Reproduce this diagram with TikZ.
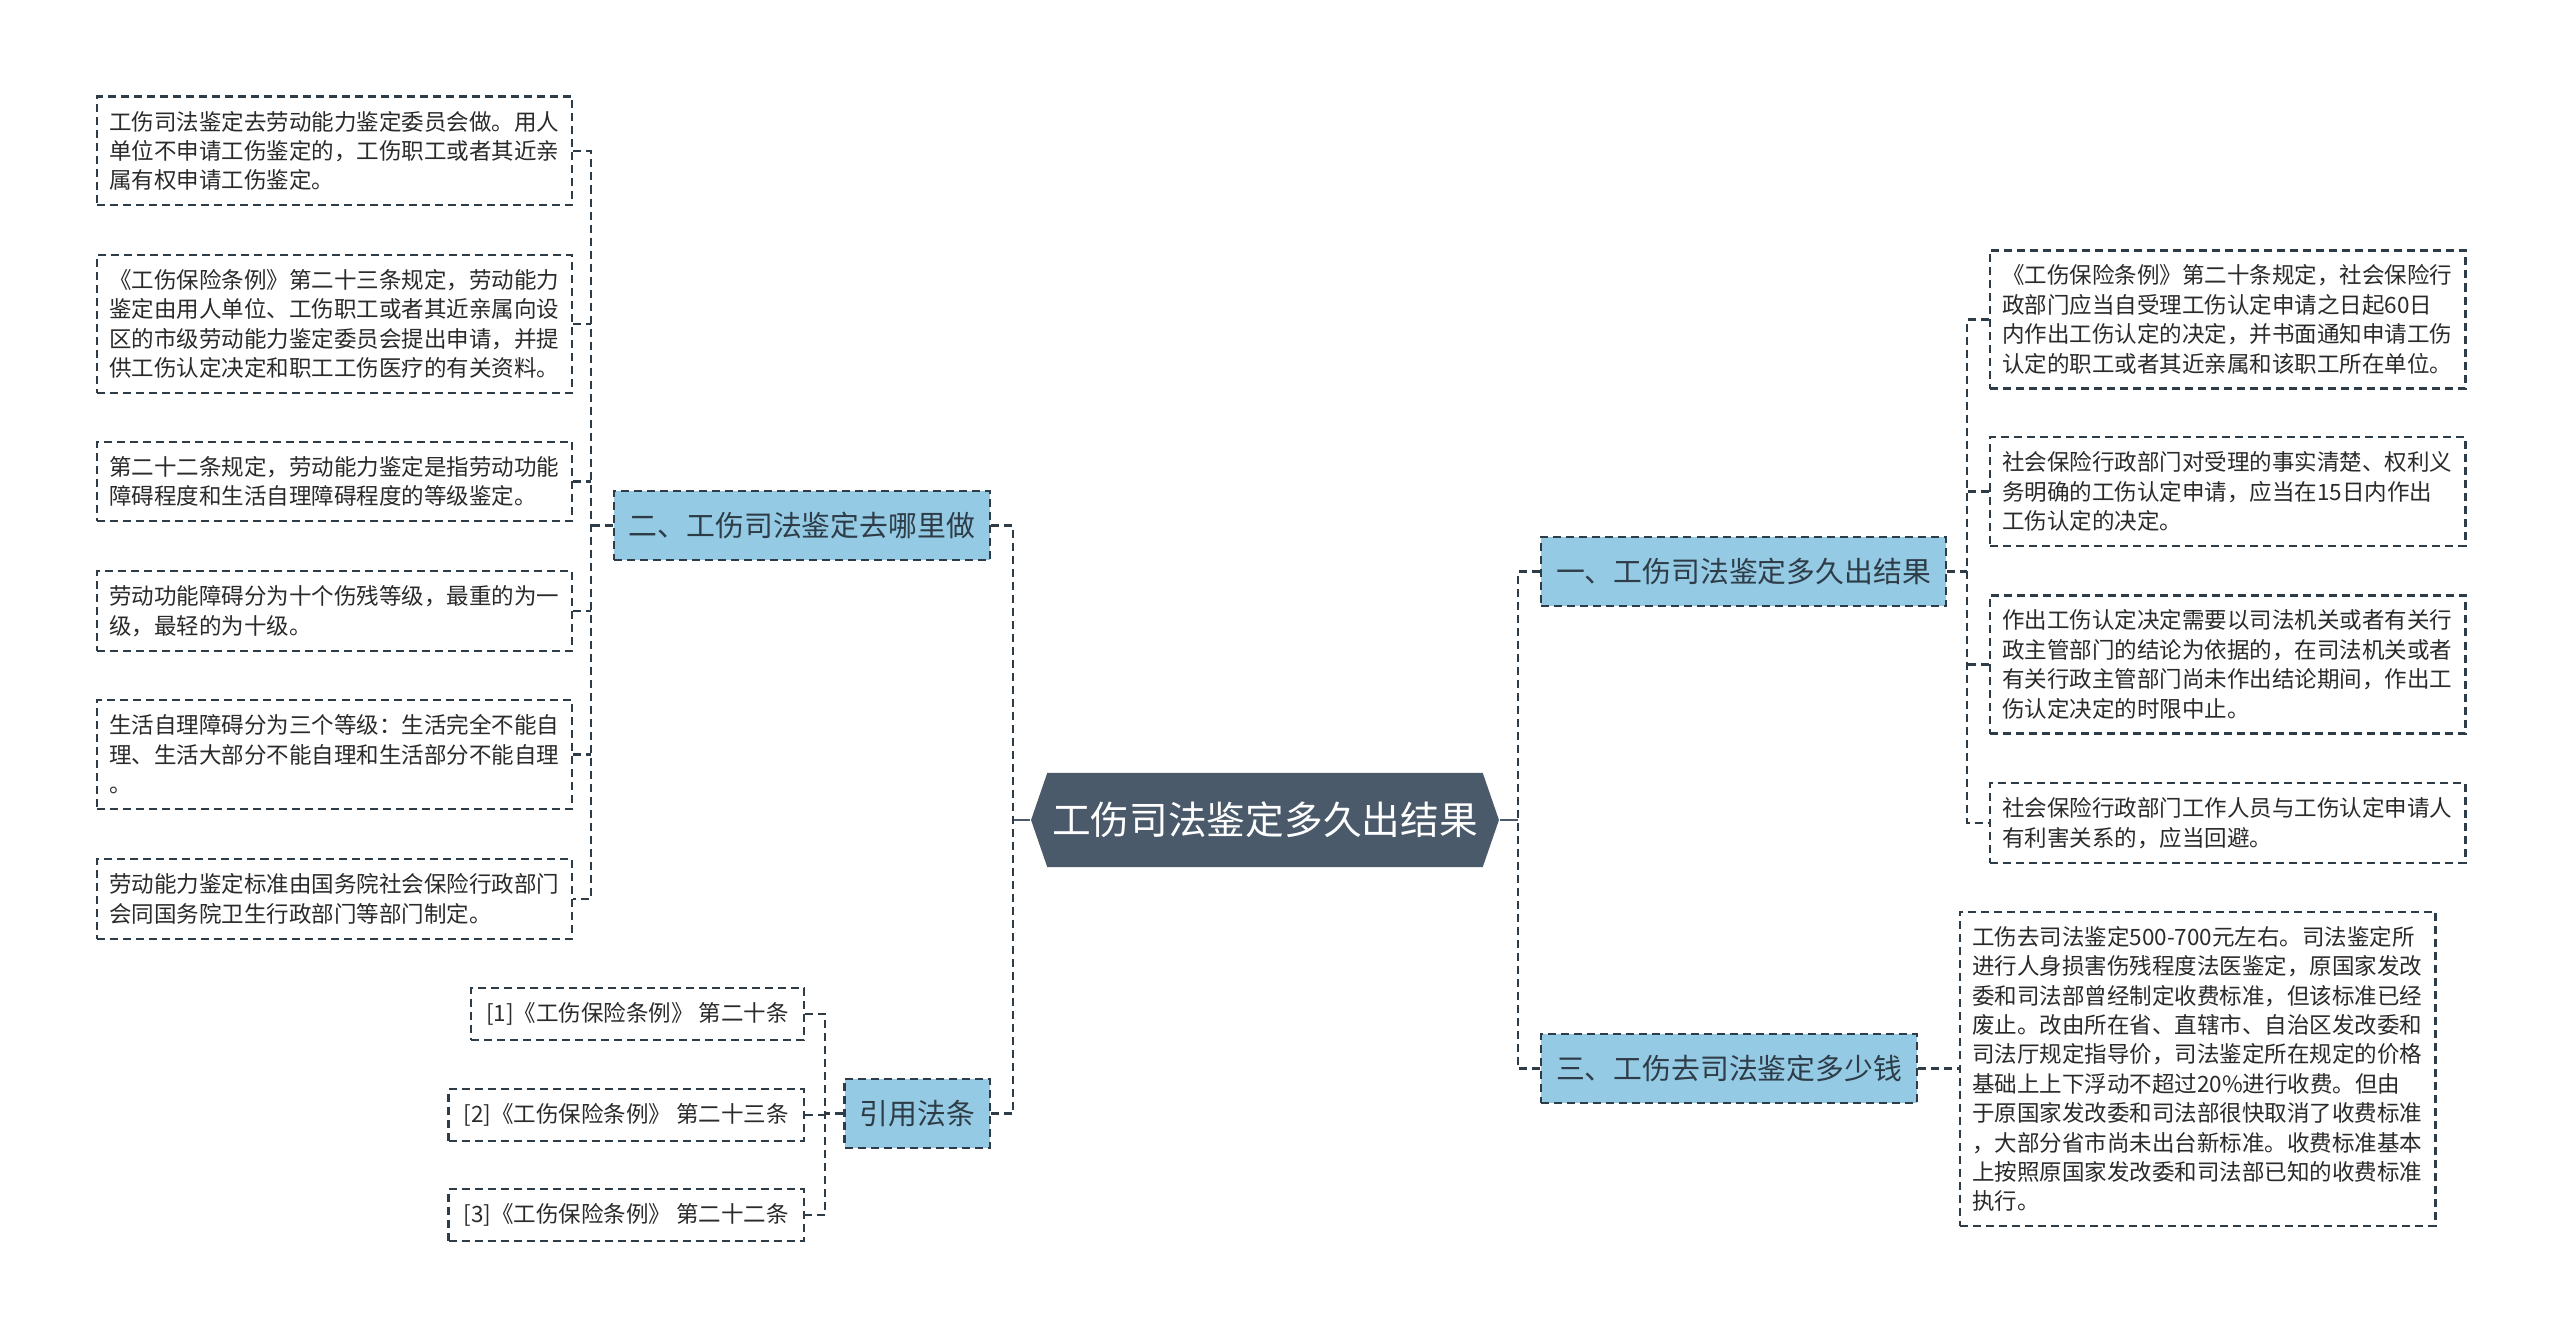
\documentclass[tikz,border=0pt]{standalone}
\usepackage{fontspec}
\setmainfont{Noto Sans CJK SC}
\usepackage{tikz}
\usetikzlibrary{shapes.symbols}
\definecolor{hubfill}{HTML}{4A5A6A}
\definecolor{branchfill}{HTML}{94CAE3}
\definecolor{edgegray}{HTML}{2E3C48}
\definecolor{leaftext}{HTML}{2A2A2A}

\begin{document}
\begin{tikzpicture}[x=0.01cm, y=-0.01cm,
  hub/.style={signal, signal to=west and east, signal pointer angle=142, fill=hubfill, text=white,
    font=\fontsize{11pt}{13pt}\selectfont, minimum height=0.94cm, inner xsep=0.05cm},
  boxed/.style={draw=edgegray, dash pattern=on 0.08cm off 0.05cm, line width=0.022cm},
  branch/.style={boxed, fill=branchfill, text=edgegray, font=\fontsize{8.2pt}{10pt}\selectfont,
    minimum height=0.69cm, inner xsep=0.15cm},
  leaf/.style={boxed, text=leaftext, font=\fontsize{6.4pt}{8.36pt}\selectfont, text width=4.51cm,
    align=left, inner xsep=0.12cm, inner ysep=0.145cm},
  reflink/.style={boxed, text=leaftext, font=\fontsize{6.4pt}{8.36pt}\selectfont, minimum height=0.52cm,
    inner xsep=0.15cm},
  conn/.style={draw=edgegray, dash pattern=on 0.08cm off 0.05cm, line width=0.026cm},
  stem/.style={draw=hubfill, line width=0.026cm}]
  \path[use as bounding box, fill=white] (0,0) rectangle (2560,1337);

  \node[hub] (hub) at (1265,820) {工伤司法鉴定多久出结果};
  \node[branch, anchor=west] (b1) at (1540,571.5) {一、工伤司法鉴定多久出结果};
  \node[branch, anchor=west] (b3) at (1540,1068.5) {三、工伤去司法鉴定多少钱};
  \node[branch, anchor=east] (b2) at (991,525.5) {二、工伤司法鉴定去哪里做};
  \node[branch, anchor=east] (b4) at (991,1113.5) {引用法条};

  \node[leaf, anchor=west] (l1) at (96,151) {工伤司法鉴定去劳动能力鉴定委员会做。用人\\单位不申请工伤鉴定的，工伤职工或者其近亲\\属有权申请工伤鉴定。};
  \node[leaf, anchor=west] (l2) at (96,324) {《工伤保险条例》第二十三条规定，劳动能力\\鉴定由用人单位、工伤职工或者其近亲属向设\\区的市级劳动能力鉴定委员会提出申请，并提\\供工伤认定决定和职工工伤医疗的有关资料。};
  \node[leaf, anchor=west] (l3) at (96,481.5) {第二十二条规定，劳动能力鉴定是指劳动功能\\障碍程度和生活自理障碍程度的等级鉴定。};
  \node[leaf, anchor=west] (l4) at (96,611) {劳动功能障碍分为十个伤残等级，最重的为一\\级，最轻的为十级。};
  \node[leaf, anchor=west] (l5) at (96,754.5) {生活自理障碍分为三个等级：生活完全不能自\\理、生活大部分不能自理和生活部分不能自理\\。};
  \node[leaf, anchor=west] (l6) at (96,899) {劳动能力鉴定标准由国务院社会保险行政部门\\会同国务院卫生行政部门等部门制定。};

  \node[leaf, anchor=west] (r1) at (1989,319.5) {《工伤保险条例》第二十条规定，社会保险行\\政部门应当自受理工伤认定申请之日起60日\\内作出工伤认定的决定，并书面通知申请工伤\\认定的职工或者其近亲属和该职工所在单位。};
  \node[leaf, anchor=west] (r2) at (1989,491.5) {社会保险行政部门对受理的事实清楚、权利义\\务明确的工伤认定申请，应当在15日内作出\\工伤认定的决定。};
  \node[leaf, anchor=west] (r3) at (1989,664.5) {作出工伤认定决定需要以司法机关或者有关行\\政主管部门的结论为依据的，在司法机关或者\\有关行政主管部门尚未作出结论期间，作出工\\伤认定决定的时限中止。};
  \node[leaf, anchor=west] (r4) at (1989,823) {社会保险行政部门工作人员与工伤认定申请人\\有利害关系的，应当回避。};
  \node[leaf, anchor=west] (r5) at (1959,1069) {工伤去司法鉴定500-700元左右。司法鉴定所\\进行人身损害伤残程度法医鉴定，原国家发改\\委和司法部曾经制定收费标准，但该标准已经\\废止。改由所在省、直辖市、自治区发改委和\\司法厅规定指导价，司法鉴定所在规定的价格\\基础上上下浮动不超过20\%进行收费。但由\\于原国家发改委和司法部很快取消了收费标准\\，大部分省市尚未出台新标准。收费标准基本\\上按照原国家发改委和司法部已知的收费标准\\执行。};

  \node[reflink, anchor=east] (f1) at (805,1014) {[1]《工伤保险条例》 第二十条};
  \node[reflink, anchor=east] (f2) at (805,1115) {[2]《工伤保险条例》 第二十三条};
  \node[reflink, anchor=east] (f3) at (805,1215) {[3]《工伤保险条例》 第二十二条};

  \coordinate (rb) at (1518,820);
  \coordinate (lb) at (1013,820);
  \coordinate (lbus) at (591,525.5);
  \coordinate (rbus) at (1967,571.5);
  \coordinate (fbus) at (825,1113.5);

  \draw[stem] (hub.east) -- (rb);
  \draw[stem] (hub.west) -- (lb);
  \draw[conn] (b1.west) -| (rb) |- (b3.west);
  \draw[conn] (b2.east) -| (lb) |- (b4.east);

  \draw[conn] (b2.west) -- (lbus);
  \draw[conn] (l1.east) -| (lbus) |- (l6.east);
  \foreach \i in {2,...,5}
    \draw[conn] (l\i.east) -- (l\i.east -| lbus);

  \draw[conn] (b1.east) -- (rbus);
  \draw[conn] (r1.west) -| (rbus) |- (r4.west);
  \foreach \i in {2,3}
    \draw[conn] (r\i.west) -- (r\i.west -| rbus);
  \draw[conn] (b3.east) -- (b3.east -| r5.west);

  \draw[conn] (b4.west) -- (fbus);
  \draw[conn] (f1.east) -| (fbus) |- (f3.east);
  \draw[conn] (f2.east) -- (f2.east -| fbus);
\end{tikzpicture}
\end{document}
